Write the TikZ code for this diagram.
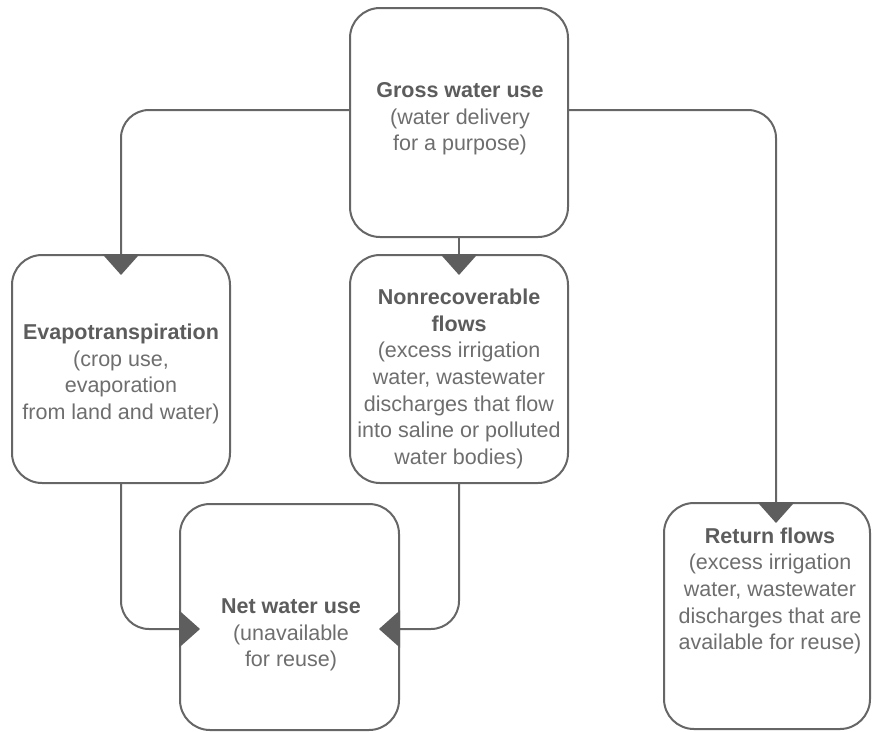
\documentclass[tikz,border=0pt]{standalone}
\usepackage{fontspec}
\setmainfont{Liberation Sans}
\usetikzlibrary{arrows.meta}
\definecolor{linegray}{HTML}{666666}
\definecolor{tipgray}{HTML}{5E5E5E}
\definecolor{titlegray}{HTML}{5C5C5C}
\definecolor{bodygray}{HTML}{6E6E6E}
\begin{document}
\begin{tikzpicture}[x=1pt,y=-1pt,
  box/.style={draw=linegray, line width=2pt, rounded corners=30pt, fill=white, inner sep=0pt},
  txt/.style={align=center, inner sep=0pt, font=\fontsize{21.5}{26.7}\selectfont, text=bodygray},
  conn/.style={draw=linegray, line width=2pt, rounded corners=28pt,
    -{Triangle[length=21pt,width=37pt,color=tipgray]}, shorten >=-21pt}]
\useasboundingbox (0,0) rectangle (872,731);

% boxes
\node[box, minimum width=218pt, minimum height=229pt] (gross) at (459,122.5) {};
\node[box, minimum width=218pt, minimum height=228pt] (evap) at (121,369) {};
\node[box, minimum width=218pt, minimum height=228pt] (nonrec) at (459,369) {};
\node[box, minimum width=219pt, minimum height=226pt] (net) at (289.5,617) {};
\node[box, minimum width=206pt, minimum height=226pt] (ret) at (767,616) {};

% texts
\node[txt] (grossT) at (460,119) {{\color{titlegray}\bfseries Gross water use}\\(water delivery\\for a purpose)};
\node[txt] (evapT) at (121,374) {{\color{titlegray}\bfseries Evapotranspiration}\\(crop use,\\evaporation\\from land and water)};
\node[txt] (nonrecT) at (459,379) {{\color{titlegray}\bfseries Nonrecoverable}\\{\color{titlegray}\bfseries flows}\\(excess irrigation\\water, wastewater\\discharges that flow\\into saline or polluted\\water bodies)};
\node[txt] (netT) at (291,635) {{\color{titlegray}\bfseries Net water use}\\(unavailable\\for reuse)};
\node[txt] (retT) at (770,591) {{\color{titlegray}\bfseries Return flows}\\(excess irrigation\\water, wastewater\\discharges that are\\available for reuse)};

% connector anchor points
\coordinate (gL) at (gross.west |- 0,110);
\coordinate (gR) at (gross.east |- 0,110);
\coordinate (retIn) at (ret.north -| 776,0);
\coordinate (netL) at (net.west |- 0,629);
\coordinate (netR) at (net.east |- 0,629);

% connectors
\draw[conn] (gL) -| (evap.north);
\draw[conn] (gR) -| (retIn);
\draw[conn] (gross.south) -- (nonrec.north);
\draw[conn] (evap.south) |- (netL);
\draw[conn] (nonrec.south) |- (netR);
\end{tikzpicture}
\end{document}
